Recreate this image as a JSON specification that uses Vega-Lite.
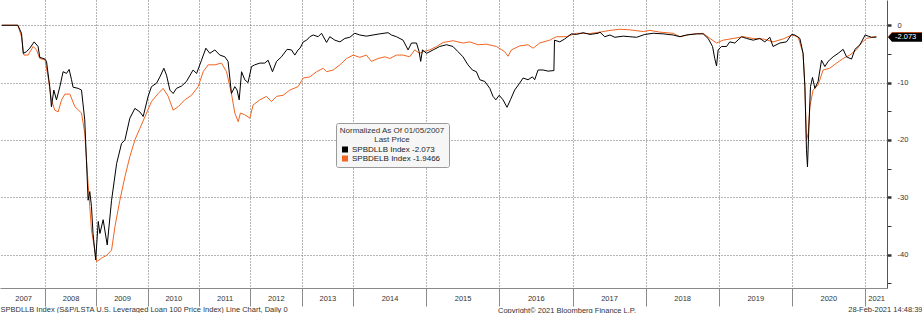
{
  "$schema": "https://vega.github.io/schema/vega-lite/v6.json",
  "width": 887,
  "height": 288,
  "autosize": {"type": "none"},
  "padding": {"left": 0, "top": 0, "right": 35, "bottom": 25},
  "background": "white",
  "config": {"view": {"stroke": null}, "font": "Liberation Sans"},
  "title": {"text": "Copyright© 2021 Bloomberg Finance L.P.", "orient": "bottom", "anchor": "start", "frame": "group", "dx": 498, "offset": -6, "fontSize": 7.5, "fontWeight": "normal", "color": "#333"},
  "datasets": {
    "llb": [
      {"date":"2007-02-28","value":0},{"date":"2007-06-22","value":0},{"date":"2007-07-18","value":-1.4},{"date":"2007-07-30","value":-4.9},{"date":"2007-08-23","value":-4.6},{"date":"2007-09-15","value":-4.0},{"date":"2007-10-16","value":-2.9},{"date":"2007-11-13","value":-3.7},{"date":"2007-11-25","value":-5.6},
      {"date":"2008-01-01","value":-5.9},{"date":"2008-01-12","value":-6.3},{"date":"2008-02-04","value":-10.7},{"date":"2008-02-16","value":-14.2},{"date":"2008-03-04","value":-11.3},{"date":"2008-03-23","value":-13.0},{"date":"2008-04-16","value":-10.7},{"date":"2008-05-09","value":-8.1},{"date":"2008-06-02","value":-8.4},{"date":"2008-06-21","value":-7.7},{"date":"2008-07-08","value":-9.5},{"date":"2008-07-19","value":-10.8},{"date":"2008-08-24","value":-11.0},{"date":"2008-09-17","value":-11.3},{"date":"2008-10-10","value":-16.5},{"date":"2008-10-22","value":-23.5},{"date":"2008-11-03","value":-30.5},{"date":"2008-11-15","value":-29.0},{"date":"2008-11-27","value":-31.6},{"date":"2008-12-08","value":-36.3},{"date":"2008-12-27","value":-40.9},
      {"date":"2009-01-14","value":-34.2},{"date":"2009-01-26","value":-36.3},{"date":"2009-02-18","value":-33.9},{"date":"2009-03-19","value":-38.3},{"date":"2009-04-19","value":-30.5},{"date":"2009-05-25","value":-24.1},{"date":"2009-06-29","value":-20.6},{"date":"2009-07-23","value":-20.0},{"date":"2009-08-27","value":-16.2},{"date":"2009-10-02","value":-14.5},{"date":"2009-11-06","value":-15.1},{"date":"2009-11-30","value":-15.9},
      {"date":"2010-01-04","value":-12.4},{"date":"2010-01-28","value":-10.7},{"date":"2010-03-05","value":-10.1},{"date":"2010-03-29","value":-9.0},{"date":"2010-04-26","value":-7.5},{"date":"2010-05-15","value":-8.7},{"date":"2010-06-08","value":-11.3},{"date":"2010-07-01","value":-11.9},{"date":"2010-07-25","value":-11.0},{"date":"2010-08-30","value":-10.6},{"date":"2010-10-04","value":-9.8},{"date":"2010-11-20","value":-7.8},{"date":"2010-12-15","value":-8.4},
      {"date":"2011-01-19","value":-6.1},{"date":"2011-02-19","value":-4.0},{"date":"2011-03-19","value":-4.9},{"date":"2011-04-24","value":-4.3},{"date":"2011-05-29","value":-5.2},{"date":"2011-07-04","value":-5.5},{"date":"2011-07-27","value":-6.3},{"date":"2011-08-20","value":-11.9},{"date":"2011-09-13","value":-10.7},{"date":"2011-09-29","value":-11.3},{"date":"2011-10-14","value":-13.0},{"date":"2011-10-31","value":-8.1},{"date":"2011-11-23","value":-9.5},{"date":"2011-12-16","value":-10.0},
      {"date":"2012-01-10","value":-7.2},{"date":"2012-02-02","value":-6.9},{"date":"2012-03-09","value":-6.6},{"date":"2012-04-13","value":-6.6},{"date":"2012-05-07","value":-6.1},{"date":"2012-06-07","value":-8.1},{"date":"2012-07-06","value":-6.3},{"date":"2012-08-10","value":-5.5},{"date":"2012-09-19","value":-4.2},{"date":"2012-10-20","value":-4.3},{"date":"2012-11-13","value":-5.2},{"date":"2012-12-06","value":-4.3},{"date":"2012-12-20","value":-4.0},
      {"date":"2013-01-12","value":-2.9},{"date":"2013-02-05","value":-2.6},{"date":"2013-02-28","value":-2.0},{"date":"2013-03-24","value":-1.7},{"date":"2013-04-28","value":-2.0},{"date":"2013-05-22","value":-1.4},{"date":"2013-06-27","value":-3.0},{"date":"2013-07-20","value":-2.0},{"date":"2013-08-25","value":-2.6},{"date":"2013-09-30","value":-2.9},{"date":"2013-11-04","value":-2.3},{"date":"2013-12-09","value":-2.1},
      {"date":"2014-01-10","value":-1.4},{"date":"2014-02-04","value":-1.7},{"date":"2014-03-09","value":-1.9},{"date":"2014-04-11","value":-1.7},{"date":"2014-05-15","value":-1.5},{"date":"2014-06-25","value":-1.3},{"date":"2014-07-12","value":-1.7},{"date":"2014-08-06","value":-2.0},{"date":"2014-09-08","value":-2.6},{"date":"2014-10-03","value":-4.3},{"date":"2014-10-20","value":-3.1},{"date":"2014-11-14","value":-3.1},{"date":"2014-11-27","value":-4.6},{"date":"2014-12-05","value":-6.3},{"date":"2014-12-14","value":-4.3},
      {"date":"2015-01-03","value":-4.9},{"date":"2015-02-05","value":-4.3},{"date":"2015-03-10","value":-3.7},{"date":"2015-04-13","value":-3.4},{"date":"2015-05-15","value":-3.7},{"date":"2015-06-09","value":-4.6},{"date":"2015-07-04","value":-5.5},{"date":"2015-07-29","value":-6.9},{"date":"2015-08-20","value":-7.8},{"date":"2015-09-09","value":-8.1},{"date":"2015-09-26","value":-9.5},{"date":"2015-10-21","value":-9.8},{"date":"2015-11-15","value":-11.0},{"date":"2015-12-01","value":-12.4},{"date":"2015-12-15","value":-13.0},
      {"date":"2016-01-01","value":-12.2},{"date":"2016-01-20","value":-13.0},{"date":"2016-02-09","value":-14.3},{"date":"2016-02-26","value":-13.0},{"date":"2016-03-18","value":-11.3},{"date":"2016-04-12","value":-10.1},{"date":"2016-04-29","value":-9.2},{"date":"2016-05-24","value":-9.5},{"date":"2016-06-15","value":-9.0},{"date":"2016-06-26","value":-9.5},{"date":"2016-07-13","value":-7.8},{"date":"2016-08-07","value":-7.8},{"date":"2016-09-01","value":-8.0},{"date":"2016-09-30","value":-7.9},{"date":"2016-10-03","value":-2.6},{"date":"2016-10-29","value":-2.9},{"date":"2016-11-23","value":-2.4},{"date":"2016-12-26","value":-1.5},
      {"date":"2017-01-21","value":-1.6},{"date":"2017-02-23","value":-1.3},{"date":"2017-03-29","value":-1.6},{"date":"2017-05-09","value":-1.4},{"date":"2017-05-18","value":-1.2},{"date":"2017-06-11","value":-2.0},{"date":"2017-07-07","value":-1.7},{"date":"2017-07-31","value":-2.1},{"date":"2017-09-11","value":-1.9},{"date":"2017-10-14","value":-2.0},{"date":"2017-11-17","value":-2.1},{"date":"2017-12-28","value":-1.6},
      {"date":"2018-02-08","value":-1.4},{"date":"2018-03-29","value":-1.5},{"date":"2018-05-18","value":-1.7},{"date":"2018-06-21","value":-2.0},{"date":"2018-07-24","value":-1.7},{"date":"2018-09-12","value":-1.5},{"date":"2018-10-15","value":-1.5},{"date":"2018-11-09","value":-2.3},{"date":"2018-12-01","value":-3.7},{"date":"2018-12-12","value":-5.8},{"date":"2018-12-21","value":-7.1},{"date":"2018-12-29","value":-4.3},
      {"date":"2019-01-15","value":-3.7},{"date":"2019-02-09","value":-3.7},{"date":"2019-02-25","value":-2.9},{"date":"2019-03-22","value":-3.1},{"date":"2019-04-25","value":-2.0},{"date":"2019-05-20","value":-2.3},{"date":"2019-06-22","value":-2.6},{"date":"2019-07-25","value":-2.3},{"date":"2019-08-19","value":-2.9},{"date":"2019-09-13","value":-2.1},{"date":"2019-09-29","value":-3.7},{"date":"2019-11-02","value":-3.1},{"date":"2019-12-05","value":-2.9},{"date":"2019-12-31","value":-1.6},
      {"date":"2020-01-16","value":-1.7},{"date":"2020-02-10","value":-2.3},{"date":"2020-02-26","value":-4.9},{"date":"2020-03-06","value":-10.7},{"date":"2020-03-14","value":-21.7},{"date":"2020-03-19","value":-24.7},{"date":"2020-03-26","value":-17.7},{"date":"2020-04-03","value":-10.7},{"date":"2020-04-13","value":-9.1},{"date":"2020-04-25","value":-11.0},{"date":"2020-05-11","value":-9.8},{"date":"2020-05-28","value":-6.1},{"date":"2020-06-14","value":-7.2},{"date":"2020-06-30","value":-6.3},{"date":"2020-07-25","value":-5.5},{"date":"2020-08-19","value":-4.9},{"date":"2020-09-13","value":-4.2},{"date":"2020-09-30","value":-5.5},{"date":"2020-10-25","value":-5.9},{"date":"2020-11-11","value":-4.2},{"date":"2020-12-06","value":-3.4},
      {"date":"2021-01-01","value":-1.7},{"date":"2021-01-16","value":-1.9},{"date":"2021-02-02","value":-2.1},{"date":"2021-02-26","value":-2.073}
    ],
    "elb": [
      {"date":"2007-02-28","value":0},{"date":"2007-06-22","value":0},{"date":"2007-07-18","value":-2.0},{"date":"2007-08-04","value":-5.2},{"date":"2007-09-03","value":-5.2},{"date":"2007-10-09","value":-3.7},{"date":"2007-11-02","value":-4.3},{"date":"2007-11-25","value":-5.8},
      {"date":"2008-01-01","value":-6.0},{"date":"2008-01-23","value":-9.0},{"date":"2008-02-16","value":-13.0},{"date":"2008-03-11","value":-14.8},{"date":"2008-04-04","value":-15.1},{"date":"2008-04-28","value":-13.0},{"date":"2008-05-22","value":-12.0},{"date":"2008-06-26","value":-12.0},{"date":"2008-08-01","value":-14.2},{"date":"2008-09-17","value":-15.3},{"date":"2008-10-10","value":-18.8},{"date":"2008-11-03","value":-27.6},{"date":"2008-11-27","value":-35.7},
      {"date":"2009-01-03","value":-41.2},{"date":"2009-02-07","value":-40.6},{"date":"2009-03-15","value":-40.1},{"date":"2009-04-19","value":-39.2},{"date":"2009-05-13","value":-35.1},{"date":"2009-06-17","value":-30.5},{"date":"2009-07-23","value":-26.4},{"date":"2009-08-27","value":-22.9},{"date":"2009-10-02","value":-20.0},{"date":"2009-11-06","value":-18.0},{"date":"2009-12-24","value":-15.3},
      {"date":"2010-01-28","value":-13.3},{"date":"2010-03-17","value":-11.9},{"date":"2010-04-21","value":-11.0},{"date":"2010-05-27","value":-12.4},{"date":"2010-07-01","value":-14.8},{"date":"2010-08-06","value":-14.2},{"date":"2010-09-22","value":-13.0},{"date":"2010-11-09","value":-12.2},{"date":"2010-12-26","value":-10.7},
      {"date":"2011-01-31","value":-8.1},{"date":"2011-03-07","value":-6.9},{"date":"2011-04-24","value":-6.9},{"date":"2011-06-10","value":-6.6},{"date":"2011-07-16","value":-8.1},{"date":"2011-08-20","value":-11.9},{"date":"2011-09-13","value":-15.3},{"date":"2011-10-07","value":-16.8},{"date":"2011-10-23","value":-15.3},{"date":"2011-11-23","value":-15.6},{"date":"2011-12-29","value":-16.2},
      {"date":"2012-01-21","value":-13.9},{"date":"2012-03-09","value":-13.0},{"date":"2012-04-25","value":-12.4},{"date":"2012-05-31","value":-13.3},{"date":"2012-07-06","value":-12.4},{"date":"2012-08-22","value":-12.2},{"date":"2012-10-08","value":-11.3},{"date":"2012-12-06","value":-10.7},
      {"date":"2013-01-12","value":-9.2},{"date":"2013-02-28","value":-9.0},{"date":"2013-04-17","value":-8.1},{"date":"2013-06-03","value":-7.5},{"date":"2013-06-27","value":-8.1},{"date":"2013-08-13","value":-7.8},{"date":"2013-09-30","value":-6.9},{"date":"2013-11-16","value":-5.8},
      {"date":"2014-01-02","value":-5.2},{"date":"2014-02-04","value":-5.6},{"date":"2014-03-09","value":-5.2},{"date":"2014-04-03","value":-6.3},{"date":"2014-05-06","value":-5.8},{"date":"2014-06-09","value":-5.5},{"date":"2014-07-04","value":-5.8},{"date":"2014-08-06","value":-5.2},{"date":"2014-09-08","value":-5.2},{"date":"2014-10-11","value":-5.5},{"date":"2014-11-05","value":-4.3},{"date":"2014-11-30","value":-4.9},{"date":"2014-12-17","value":-4.6},
      {"date":"2015-01-19","value":-4.3},{"date":"2015-02-22","value":-3.7},{"date":"2015-03-27","value":-3.0},{"date":"2015-05-15","value":-2.7},{"date":"2015-07-04","value":-3.1},{"date":"2015-08-07","value":-2.9},{"date":"2015-09-17","value":-3.4},{"date":"2015-10-29","value":-3.3},{"date":"2015-12-18","value":-3.7},
      {"date":"2016-01-28","value":-4.6},{"date":"2016-02-14","value":-5.4},{"date":"2016-03-02","value":-4.3},{"date":"2016-04-12","value":-3.6},{"date":"2016-05-24","value":-3.4},{"date":"2016-06-18","value":-4.0},{"date":"2016-07-21","value":-3.1},{"date":"2016-09-09","value":-2.6},{"date":"2016-10-12","value":-2.0},{"date":"2016-12-01","value":-2.0},
      {"date":"2017-01-21","value":-1.4},{"date":"2017-03-29","value":-1.45},{"date":"2017-05-18","value":-1.2},{"date":"2017-07-07","value":-0.9},{"date":"2017-08-26","value":-0.7},{"date":"2017-10-14","value":-0.8},{"date":"2017-12-20","value":-1.1},
      {"date":"2018-01-22","value":-0.9},{"date":"2018-03-13","value":-1.2},{"date":"2018-05-18","value":-1.4},{"date":"2018-06-21","value":-2.0},{"date":"2018-08-10","value":-1.6},{"date":"2018-10-15","value":-1.4},{"date":"2018-11-18","value":-2.3},{"date":"2018-12-21","value":-3.1},
      {"date":"2019-01-23","value":-2.6},{"date":"2019-03-14","value":-2.3},{"date":"2019-05-03","value":-2.0},{"date":"2019-06-22","value":-2.3},{"date":"2019-08-11","value":-2.4},{"date":"2019-09-29","value":-2.9},{"date":"2019-11-18","value":-2.4},{"date":"2019-12-31","value":-1.7},
      {"date":"2020-02-01","value":-2.0},{"date":"2020-02-26","value":-4.9},{"date":"2020-03-06","value":-10.7},{"date":"2020-03-14","value":-20.0},{"date":"2020-03-23","value":-18.8},{"date":"2020-03-31","value":-14.2},{"date":"2020-04-16","value":-11.3},{"date":"2020-05-11","value":-10.4},{"date":"2020-06-05","value":-7.8},{"date":"2020-07-08","value":-7.5},{"date":"2020-08-11","value":-6.6},{"date":"2020-09-13","value":-5.8},{"date":"2020-10-16","value":-5.2},{"date":"2020-11-18","value":-4.3},{"date":"2020-12-13","value":-3.1},
      {"date":"2021-01-08","value":-2.3},{"date":"2021-02-26","value":-1.9466}
    ],
    "quarters": [
      {"date":"2007-04-01"},{"date":"2007-07-01"},{"date":"2007-10-01"},
      {"date":"2008-04-01"},{"date":"2008-07-01"},{"date":"2008-10-01"},
      {"date":"2009-04-01"},{"date":"2009-07-01"},{"date":"2009-10-01"},
      {"date":"2010-04-01"},{"date":"2010-07-01"},{"date":"2010-10-01"},
      {"date":"2011-04-01"},{"date":"2011-07-01"},{"date":"2011-10-01"},
      {"date":"2012-04-01"},{"date":"2012-07-01"},{"date":"2012-10-01"},
      {"date":"2013-04-01"},{"date":"2013-07-01"},{"date":"2013-10-01"},
      {"date":"2014-04-01"},{"date":"2014-07-01"},{"date":"2014-10-01"},
      {"date":"2015-04-01"},{"date":"2015-07-01"},{"date":"2015-10-01"},
      {"date":"2016-04-01"},{"date":"2016-07-01"},{"date":"2016-10-01"},
      {"date":"2017-04-01"},{"date":"2017-07-01"},{"date":"2017-10-01"},
      {"date":"2018-04-01"},{"date":"2018-07-01"},{"date":"2018-10-01"},
      {"date":"2019-04-01"},{"date":"2019-07-01"},{"date":"2019-10-01"},
      {"date":"2020-04-01"},{"date":"2020-07-01"},{"date":"2020-10-01"}
    ],
    "lastL": [{"date":"2021-04-20","value":-2.073,"label":"-2.073"}],
    "lastE": [{"date":"2021-04-20","value":-1.9466,"label":"-1.9466"}]
  },
  "encoding": {
    "x": {
      "field": "date", "type": "temporal",
      "scale": {"type": "utc", "nice": false,
        "domain": {"expr": "[utc(2007,1,15), utc(2014,0,1), utc(2021,3,20)]"},
        "range": [0, 353, 887]},
      "axis": {
        "values": [{"year":2007,"month":2,"date":16,"utc":true},{"year":2008,"month":1,"date":1,"utc":true},{"year":2009,"month":1,"date":1,"utc":true},{"year":2010,"month":1,"date":1,"utc":true},{"year":2011,"month":1,"date":1,"utc":true},{"year":2012,"month":1,"date":1,"utc":true},{"year":2013,"month":1,"date":1,"utc":true},{"year":2014,"month":1,"date":1,"utc":true},{"year":2015,"month":1,"date":1,"utc":true},{"year":2016,"month":1,"date":1,"utc":true},{"year":2017,"month":1,"date":1,"utc":true},{"year":2018,"month":1,"date":1,"utc":true},{"year":2019,"month":1,"date":1,"utc":true},{"year":2020,"month":1,"date":1,"utc":true},{"year":2021,"month":1,"date":1,"utc":true}],
        "format": "%Y",
        "labelOffset": {"condition": [
          {"test": "datum.value < utc(2008,0,1)", "value": 23},
          {"test": "datum.value < utc(2014,0,1)", "value": 25.6},
          {"test": "datum.value < utc(2021,0,1)", "value": 36.5}], "value": 11},
        "grid": true, "gridDash": [1, 2], "gridColor": "#6a6a6a",
        "gridOpacity": {"condition": {"test": "datum.value < utc(2007,11,1)", "value": 0}, "value": 1},
        "tickSize": 18, "tickColor": "#8a8a8a",
        "tickOpacity": {"condition": {"test": "datum.value < utc(2007,11,1)", "value": 0}, "value": 1},
        "domainColor": "#8a8a8a",
        "labelPadding": -12, "labelFontSize": 7.5, "labelColor": "#333", "labelAlign": "center", "labelBaseline": "top",
        "labelOverlap": false, "labelFlush": false, "labelBound": false,
        "title": "SPBDLLB Index (S&P/LSTA U.S. Leveraged Loan 100 Price Index) Line Chart, Daily 0",
        "titleX": 0, "titleY": 23, "titleAlign": "left", "titleAnchor": "start", "titleBaseline": "alphabetic",
        "titleFontSize": 7.5, "titleFontWeight": "normal", "titleColor": "#333"
      }
    },
    "y": {
      "field": "value", "type": "quantitative",
      "scale": {"domain": [-45.8, 4.4], "nice": false, "zero": false},
      "axis": {
        "orient": "right",
        "values": [0, -5, -10, -15, -20, -25, -30, -35, -40, -45],
        "labelExpr": "datum.value % 10 === 0 ? toString(datum.value) : ''",
        "grid": true, "gridDash": [1, 2], "gridColor": "#6a6a6a",
        "gridOpacity": {"condition": {"test": "datum.value % 10 === 0", "value": 1}, "value": 0},
        "tickSize": 4, "tickColor": "#333",
        "tickWidth": {"condition": {"test": "datum.value % 10 === 0", "value": 2.5}, "value": 1},
        "domainColor": "#555",
        "labelPadding": 6, "labelFontSize": 7.5, "labelColor": "#333", "labelBaseline": "middle",
        "title": "28-Feb-2021 14:48:39", "titleAngle": 0, "titleX": 35, "titleY": 311, "titleAlign": "right", "titleBaseline": "alphabetic",
        "titleFontSize": 7.5, "titleFontWeight": "normal", "titleColor": "#333"
      }
    }
  },
  "layer": [
    {
      "data": {"name": "quarters"},
      "mark": {"type": "rule", "color": "#8a8a8a", "strokeWidth": 1},
      "encoding": {"y": {"datum": -45.8, "type": "quantitative"}, "y2": {"datum": -45.25}}
    },
    {
      "data": {"name": "elb"},
      "mark": {"type": "line", "strokeWidth": 1},
      "encoding": {
        "color": {"datum": "SPBDELB Index", "type": "nominal",
          "scale": {"domain": ["SPBDLLB Index", "SPBDELB Index"], "range": ["#000000", "#f26522"]},
          "legend": {
            "orient": "none", "legendX": 336, "legendY": 123,
            "title": ["Normalized As Of 01/05/2007", "Last Price"],
            "titleFontSize": 8, "titleFontWeight": "normal", "titleColor": "#333", "titleAnchor": "middle", "titleAlign": "center", "titleLineHeight": 8.5, "titlePadding": 2,
            "labelFontSize": 8, "labelColor": "#222", "labelOffset": 3,
            "labelExpr": "datum.label === 'SPBDLLB Index' ? 'SPBDLLB Index  -2.073' : 'SPBDELB Index  -1.9466'",
            "symbolType": "square", "symbolSize": 36, "symbolStrokeWidth": 0,
            "encode": {"symbols": {"update": {"fill": {"scale": "color", "field": "value"}, "strokeWidth": {"value": 0}}}},
            "rowPadding": 1, "padding": 4, "fillColor": "#f6f6f6", "strokeColor": "#9a9a9a", "cornerRadius": 2
          }
        }
      }
    },
    {
      "data": {"name": "llb"},
      "mark": {"type": "line", "strokeWidth": 1},
      "encoding": {
        "color": {"datum": "SPBDLLB Index", "type": "nominal",
          "scale": {"domain": ["SPBDLLB Index", "SPBDELB Index"], "range": ["#000000", "#f26522"]}}
      }
    },
    {
      "data": {"name": "lastE"},
      "mark": {"type": "point", "shape": "M0.2 0 L1 -0.9 L7 -0.9 L7 0.9 L1 0.9 Z", "size": 100, "filled": true, "fill": "#f26522", "opacity": 1, "strokeWidth": 0}
    },
    {
      "data": {"name": "lastL"},
      "mark": {"type": "point", "shape": "M0.2 0 L1 -0.9 L7 -0.9 L7 0.9 L1 0.9 Z", "size": 100, "filled": true, "fill": "#000000", "opacity": 1, "strokeWidth": 0}
    },
    {
      "data": {"name": "lastL"},
      "mark": {"type": "text", "align": "left", "baseline": "middle", "dx": 8, "fontSize": 7.5, "color": "#ffffff"},
      "encoding": {"text": {"field": "label"}}
    }
  ]
}
